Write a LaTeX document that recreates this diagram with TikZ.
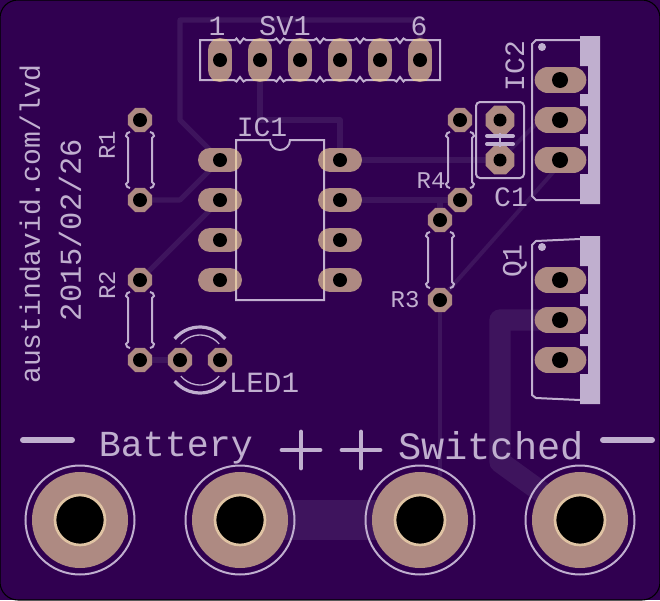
\documentclass[tikz,border=0pt]{standalone}
\usepackage{fontspec}
\setmonofont{Liberation Mono}
\definecolor{boardpurple}{HTML}{300050}
\definecolor{tracepurple}{HTML}{3E145D}
\definecolor{padcopper}{HTML}{AE8A82}
\definecolor{silkwhite}{HTML}{C0AFCF}
\definecolor{padtan}{HTML}{E0C4A4}
\tikzset{
  copper/.style={draw=tracepurple, line width=3.8pt, line join=round},
  padline/.style={draw=padcopper, line cap=round},
  silk/.style={draw=silkwhite, line width=1.5pt},
  thinsilk/.style={draw=silkwhite, line width=1pt},
  silktext/.style={text=silkwhite, inner sep=0pt, font=\ttfamily\fontsize{#1}{#1}\selectfont},
}
\begin{document}
\begin{tikzpicture}[x=.75pt,y=-.75pt]
\useasboundingbox (0,0) rectangle (660,600);
\fill [boardpurple] (0,0) rectangle (660,600);
\draw [black, line width=.8pt, rounded corners=13.5pt] (0,0) rectangle (660,600);
% traces
\draw [copper] (220,160) -- (180,120) -- (180,20) -- (420,20) -- (420,60);
\draw [copper] (260,60) -- (260,120) -- (340,120) -- (340,160);
\draw [copper] (340,160) -- (500,160);
\draw [copper] (340,200) -- (460,200);
\draw [copper] (440,200) -- (440,220);
\draw [copper] (140,200) -- (180,200) -- (220,160);
\draw [copper] (140,280) -- (220,200);
\draw [copper] (140,360) -- (180,360);
\draw [copper, line width=3pt] (440,300) -- (440,500);
\draw [copper, line width=3pt] (440,300) -- (555,170);
\draw [copper, line width=3pt] (500,160) -- (540,120) -- (560,120);
\draw [copper, line width=16pt] (560,320) -- (500,320) -- (500,462) -- (580,520);
\draw [copper, line width=30pt] (240,520) -- (420,520);
% pads
\foreach \x in {220,260,...,420} {
  \draw [padline, line width=18pt] (\x,50) -- (\x,70);
}
\foreach \y in {160,200,240,280} {
  \draw [padline, line width=18pt] (210,\y) -- (230,\y);
  \draw [padline, line width=18pt] (330,\y) -- (350,\y);
}
\foreach \s in {0,200} {
  \foreach \y in {80,120,160} {
    \draw [padline, line width=20pt] (548,\y+\s) -- (573,\y+\s);
  }
}
\foreach \x/\y in {140/120,140/200,140/280,140/360,440/220,440/300,460/120,460/200,180/360,220/360} {
  \fill [padcopper, shift={(\x,\y)}] (22.5:13) -- (67.5:13) -- (112.5:13) -- (157.5:13) -- (202.5:13) -- (247.5:13) -- (292.5:13) -- (337.5:13) -- cycle;
}
\foreach \y in {120,160} {
  \fill [padcopper, shift={(500,\y)}] (22.5:15.5) -- (67.5:15.5) -- (112.5:15.5) -- (157.5:15.5) -- (202.5:15.5) -- (247.5:15.5) -- (292.5:15.5) -- (337.5:15.5) -- cycle;
}
\foreach \x in {80,240,420,580} {
  \fill [padcopper] (\x,520) circle (48);
}
% silkscreen
\draw [silk] (200,40) -- (235,40)
  \foreach \x in {240,280,...,400} { -- (\x-3.5,38.5) -- (\x,43) -- (\x+3.5,38.5) -- (\x+6,40) -- (\x+34,40) }
  -- (440,40) -- (440,80) -- (405,80)
  \foreach \x in {400,360,...,240} { -- (\x+3.5,81.5) -- (\x,77) -- (\x-3.5,81.5) -- (\x-6,80) -- (\x-34,80) }
  -- (200,80) -- cycle;
\draw [silk] (236,140) -- (270,140) arc (180:0:10) -- (324,140) -- (324,300) -- (236,300) -- cycle;
\foreach \x/\y in {140/160,140/320,440/260,460/160} {
  \begin{scope}[shift={(\x,\y)}]
  \draw [silk] (-10,-28) arc (270:180:4) -- (-12,-22) -- (-12,22) -- (-14,24) arc (180:90:4);
  \draw [silk] (10,-28) arc (270:360:4) -- (12,-22) -- (12,22) -- (14,24) arc (0:90:4);
  \end{scope}
}
\draw [silk, rounded corners=3pt] (476,102) rectangle (524,178);
\draw [silkwhite, line width=3pt, line cap=round] (487,136) -- (513,136);
\draw [silkwhite, line width=3pt, line cap=round] (487,144) -- (513,144);
\draw [thinsilk] (500,133) -- (500,147);
\draw [silk] (580,40) -- (536,40) -- (532,44) -- (532,196) -- (536,200) -- (580,200);
\draw [silk] (580,239) -- (536,241) -- (532,245) -- (532,395) -- (536,398) -- (580,400);
\foreach \s in {0,200} {
  \fill [silkwhite, yshift=-.75*\s] (600,36) -- (600,204) -- (580,204) -- (580,174) -- (588,174) -- (588,146) -- (580,146) -- (580,134) -- (588,134) -- (588,106) -- (580,106) -- (580,94) -- (588,94) -- (588,66) -- (580,66) -- (580,36) -- cycle;
  \fill [silkwhite] (542,47+\s) circle (4);
}
\draw [silkwhite, line width=2.4pt] (200,360) ++(220:33) arc (220:320:33);
\draw [silkwhite, line width=2.4pt] (200,360) ++(40:33) arc (40:140:33);
\draw [thinsilk] (200,360) ++(220:25) arc (220:320:25);
\draw [thinsilk] (200,360) ++(40:25) arc (40:140:25);
\foreach \x in {80,240,420,580} {
  \draw [silk] (\x,520) circle (54.5);
}
\draw [silkwhite, line width=4.5pt, line cap=round] (23,440) -- (72,440);
\draw [silkwhite, line width=4.5pt, line cap=round] (603,440) -- (652,440);
\foreach \x in {301,361} {
  \draw [silkwhite, line width=3.6pt, line cap=round] (\x-19,450) -- (\x+19,450);
  \draw [silkwhite, line width=3.6pt, line cap=round] (\x,432) -- (\x,468);
}
% silk crossing the pads
\foreach \x in {220,260,...,420} {
  \draw [padtan, line width=1.5pt] (\x-6.6,40) -- (\x+6.6,40);
  \draw [padtan, line width=1.5pt] (\x-6.6,80) -- (\x+6.6,80);
}
\foreach \y in {160,200,240,280} {
  \draw [padtan, line width=1.5pt] (236,\y-10.4) -- (236,\y+10.4);
  \draw [padtan, line width=1.5pt] (324,\y-10.4) -- (324,\y+10.4);
}
% drill holes
\foreach \x in {220,260,...,420} {
  \fill [black] (\x,60) circle (7);
}
\foreach \x/\y in {220/160,220/200,220/240,220/280,340/160,340/200,340/240,340/280,140/120,140/200,140/280,140/360,440/220,440/300,460/120,460/200,180/360,220/360} {
  \fill [black] (\x,\y) circle (7);
}
\fill [black] (500,120) circle (6.5);
\fill [black] (500,160) circle (6.5);
\foreach \y in {80,120,160,280,320,360} {
  \fill [black] (560,\y) circle (8);
}
\foreach \x in {80,240,420,580} {
  \draw [padtan, line width=2pt, fill=black] (\x,520) circle (25);
}
% labels
\node [silktext=21] (pinone) at (217,26) {1};
\node [silktext=21] (pinsix) at (419,26) {6};
\node [silktext=21.5] (header) at (285,26) {SV1};
\node [silktext=21] (dip) at (262,127) {IC1};
\node [silktext=18] (rone) at (107,145) [rotate=90] {R1};
\node [silktext=18] (rtwo) at (107,285) [rotate=90] {R2};
\node [silktext=18] (rthree) at (405,300) {R3};
\node [silktext=18] (rfour) at (431,181) {R4};
\node [silktext=21] (cone) at (511,197) {C1};
\node [silktext=21] (regulator) at (515,66) [rotate=90] {IC2};
\node [silktext=21] (qone) at (515,261) [rotate=90] {Q1};
\node [silktext=22] (led) at (264,383) {LED1};
\node [silktext=21] (url) at (30,224) [rotate=90] {austindavid.com/lvd};
\node [silktext=22.8] (date) at (70,230) [rotate=90] {2015/02/26};
\node [silktext=27.5] (battery) at (176,448) {Battery};
\node [silktext=29] (switched) at (491,446) {Switched};
\end{tikzpicture}
\end{document}
